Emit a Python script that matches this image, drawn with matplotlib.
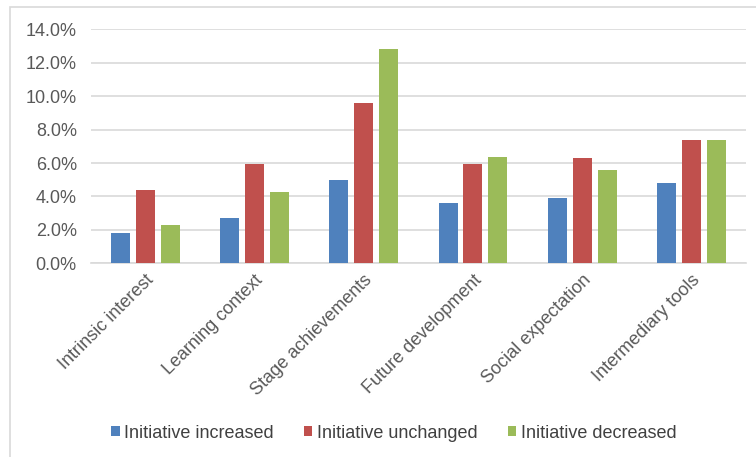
import matplotlib
matplotlib.use("Agg")
import matplotlib.pyplot as plt
import numpy as np
from matplotlib.patches import Rectangle
from matplotlib.ticker import FuncFormatter, MultipleLocator

categories = ["Intrinsic interest", "Learning context", "Stage achievements",
              "Future development", "Social expectation", "Intermediary tools"]
series_names = ["Initiative increased", "Initiative unchanged", "Initiative decreased"]
increased = [1.8, 2.7, 5.0, 3.6, 3.9, 4.8]
unchanged = [4.4, 5.95, 9.6, 5.95, 6.3, 7.4]
decreased = [2.3, 4.25, 12.8, 6.35, 5.6, 7.4]
colors = ["#4F81BD", "#C0504D", "#9BBB59"]

plt.rcParams['font.family'] = ['Liberation Sans', 'DejaVu Sans']

fig = plt.figure(figsize=(7.56, 4.57), dpi=100)
fig.patch.set_facecolor("white")
border = Rectangle((10/756, -0.05), 1.2, 1 - 7/457 + 0.05, transform=fig.transFigure,
                   fill=False, edgecolor="#d9d9d9", linewidth=1.2)
fig.patches.append(border)

ax = fig.add_axes([90.7/756, 1 - 263.3/457, (746 - 90.7)/756, (263.3 - 29.3)/457])
x = np.arange(len(categories))
w = 0.174
step = 0.228
for i, (vals, c, name) in enumerate(zip([increased, unchanged, decreased], colors, series_names)):
    ax.bar(x + (i - 1) * step, np.array(vals) / 100, width=w, color=c, label=name, zorder=3)

ax.set_xlim(-0.5, len(categories) - 0.5)
ax.set_ylim(0, 0.14)
ax.yaxis.set_major_locator(MultipleLocator(0.02))
ax.yaxis.set_major_formatter(FuncFormatter(lambda v, p: f"{v*100:.1f}%"))
ax.grid(axis="y", color="#d9d9d9", linewidth=1.2, zorder=0)
for s in ["top", "right", "left"]:
    ax.spines[s].set_visible(False)
ax.spines["bottom"].set_color("#d9d9d9")
ax.spines["bottom"].set_linewidth(1.2)
ax.tick_params(axis="both", length=0, labelsize=13, colors="#595959")
ax.tick_params(axis="y", pad=10)
ax.set_xticks(x)
ax.set_xticklabels(categories, rotation=45, ha="right", rotation_mode="anchor")
ax.tick_params(axis="x", pad=6)

leg = fig.legend(loc="center", bbox_to_anchor=(394/756, 1 - 433/457), ncol=3, frameon=False,
                 fontsize=13, handlelength=0.45, handleheight=0.45, handletextpad=0.25,
                 columnspacing=1.7, labelcolor="#404040")

fig.savefig("out.png", dpi=100)
